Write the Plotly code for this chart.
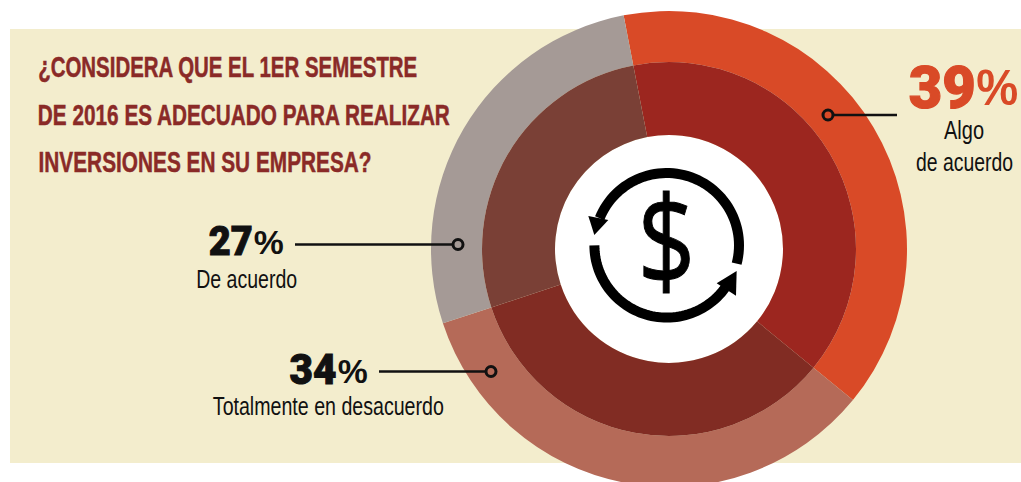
import json
import numpy as np
import plotly.graph_objects as go

categories = ["Algo de acuerdo", "Totalmente en desacuerdo", "De acuerdo"]
values = [39, 34, 27]
outer_colors = ["#D94A27", "#B56A58", "#A59A96"]
inner_colors = ["#9C261F", "#812C23", "#7A4036"]
title_lines = ["¿CONSIDERA QUE EL 1ER SEMESTRE", "DE 2016 ES ADECUADO PARA REALIZAR", "INVERSIONES EN SU EMPRESA?"]
title_widths = [379, 412, 333]

W, H = 1021, 490
CX, CY = 669, 249
R_OUT, R_MID, R_HOLE = 238, 187, 114
BG = "#F3EDCD"
DARK = "#8A2A27"
SANS = "Liberation Sans"
ORANGE = "#D94A27"


def px(x):
    return x / W


def py(y):
    return 1 - y / H


def dom(r):
    return dict(x=[px(CX - r), px(CX + r)], y=[py(CY + r), py(CY - r)])


def ring(r, hole, colors):
    return go.Pie(labels=categories, values=values, sort=False, direction="clockwise", rotation=-11,
                  hole=hole, domain=dom(r), textinfo="none", marker=dict(colors=colors, line=dict(width=0)),
                  showlegend=False, hoverinfo="label+percent")


fig = go.Figure([ring(R_OUT, R_MID / R_OUT, outer_colors), ring(R_MID, R_HOLE / R_MID, inner_colors)])

shapes = [
    dict(type="rect", xref="paper", yref="paper", x0=px(10), x1=1, y0=py(463), y1=py(29),
         fillcolor=BG, line=dict(width=0), layer="below"),
    dict(type="circle", xref="paper", yref="paper", x0=px(CX - R_HOLE), x1=px(CX + R_HOLE),
         y0=py(CY + R_HOLE), y1=py(CY - R_HOLE), fillcolor="white", line=dict(width=0), layer="below"),
]


def leader(x0, x1, y, cx):
    shapes.append(dict(type="line", xref="paper", yref="paper", x0=px(x0), x1=px(x1), y0=py(y), y1=py(y),
                       line=dict(color="#111", width=2.6)))
    r = 5
    shapes.append(dict(type="circle", xref="paper", yref="paper", x0=px(cx - r), x1=px(cx + r),
                       y0=py(y + r), y1=py(y - r), line=dict(color="#111", width=3)))


leader(834, 897, 115, 828)
leader(295, 453, 244.5, 458)
leader(379, 486, 371.5, 491)

IX, IY, IR = 666.7, 245.3, 72.3


def arc(a0, a1):
    t = np.radians(np.linspace(a0, a1, 60))
    xs = IX + IR * np.cos(t)
    ys = IY - IR * np.sin(t)
    return "M " + " L ".join(f"{px(a):.5f},{py(b):.5f}" for a, b in zip(xs, ys))


def tri(points):
    return "M " + " L ".join(f"{px(550 + a / 3):.5f},{py(140 + b / 3):.5f}" for a, b in points) + " Z"


for a0, a1 in [(-14.6, 158), (180, 324)]:
    shapes.append(dict(type="path", xref="paper", yref="paper", path=arc(a0, a1),
                       line=dict(color="black", width=10)))
for pts in [[(115, 228), (175, 240), (133, 285)], [(560, 393), (558, 467), (500, 430)]]:
    shapes.append(dict(type="path", xref="paper", yref="paper", path=tri(pts), fillcolor="black",
                       line=dict(width=0)))

anns = []
fits = []


def text(s, x, y, size, width, color="#111", family=SANS, weight=None, stroke=0):
    """x is the horizontal centre of the text; width is its fitted length."""
    f = dict(family=family, size=size, color=color)
    if weight:
        f["weight"] = weight
    anns.append(dict(text=s, x=px(x), y=py(y), xref="paper", yref="paper", xanchor="center", yanchor="middle",
                     showarrow=False, font=f, borderpad=0))
    fits.append([width, stroke])


def left(s, x0, y, size, width, **kw):
    text(s, x0 + width / 2, y, size, width, **kw)


for line, y, w in zip(title_lines, [66, 114, 162], title_widths):
    left(line, 38, y, 29.5, w, color=DARK, weight=700, stroke=0.5)

HEAVY = "Roboto"
left("39", 908, 87, 59, 67, color=ORANGE, family=HEAVY, weight=900, stroke=1.2)
left("%", 976, 88, 50, 42, color=ORANGE, weight=700)
left("27", 209, 241, 41, 44, family=HEAVY, weight=900, stroke=1)
left("%", 253, 243, 33, 30, weight=700)
left("34", 289, 369, 43, 47, family=HEAVY, weight=900, stroke=1)
left("%", 337, 371, 33, 30, weight=700)

text("Algo", 964, 130, 25, 40)
text("de acuerdo", 964, 162, 25, 97)
text("De acuerdo", 246.5, 279, 25, 101)
text("Totalmente en desacuerdo", 328, 406, 25, 231)
text("$", IX, IY - 8, 124, 58, color="black", family="Open Sans", weight=400, stroke=1)

fig.update_layout(width=W, height=H, margin=dict(l=0, r=0, t=0, b=0), paper_bgcolor="white",
                  shapes=shapes, annotations=anns)

post = """
document.body.style.margin='0';document.documentElement.style.overflow='hidden';document.body.style.overflow='hidden';
var fits=%s;
document.querySelectorAll('.annotation-text').forEach(function(t,i){
  var f=fits[i]; if(!f) return;
  t.setAttribute('textLength',f[0]);
  t.setAttribute('lengthAdjust','spacingAndGlyphs');
  if(f[1]){t.style.stroke=t.style.fill;t.style.strokeWidth=f[1]+'px';}
});
""" % json.dumps(fits)
fig.write_html("out.html", post_script=post, config=dict(displayModeBar=False))
